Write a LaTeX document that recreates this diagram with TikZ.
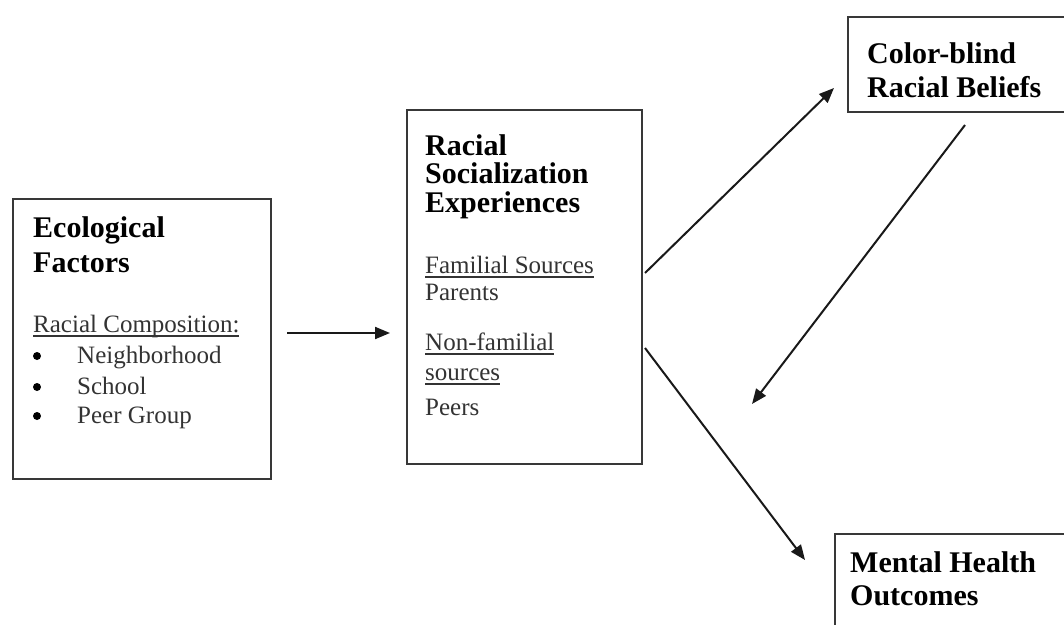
\documentclass[tikz,border=0pt]{standalone}
\usepackage{fontspec}
\setmainfont{Liberation Serif}
\usetikzlibrary{arrows.meta}
\newcommand\ulin[1]{\setbox0\hbox{#1}\rlap{\rule[-4.5pt]{\wd0}{1.4pt}}#1}
\tikzset{
  box/.style={draw=black!78, line width=2.2pt, fill=none, inner sep=0pt, anchor=north west},
  title/.style={anchor=base west, inner sep=0pt, font=\fontsize{30}{35}\selectfont\bfseries, text=black},
  body/.style={anchor=base west, inner sep=0pt, font=\fontsize{25}{30}\selectfont, text=black!80},
  bullet/.style={circle, fill=black, inner sep=0pt, minimum size=8pt},
  conn/.style={draw=black!90, line width=2pt, -{Triangle[length=15pt,width=12pt]}}
}
\begin{document}
\begin{tikzpicture}[x=1pt,y=-1pt]
\useasboundingbox (0,0) rectangle (1064,624);
% boxes
\node[box, minimum width=258pt, minimum height=280pt] (eco) at (12,198) {};
\node[box, minimum width=235pt, minimum height=354pt] (rse) at (406,109) {};
\node[box, minimum width=225pt, minimum height=95pt] (cb) at (847,16) {};
\node[box, minimum width=240pt, minimum height=120pt] (mh) at (834,533) {};
% ecological factors
\node[title] (ecoA) at (33,237) {Ecological};
\node[title] (ecoB) at (33,272) {Factors};
\node[body] (ecoC) at (33,332) {\ulin{Racial Composition:}};
\node[bullet] (b1) at (37,356) {};
\node[bullet] (b2) at (37,387) {};
\node[bullet] (b3) at (37,416) {};
\node[body] (i1) at (77,363) {Neighborhood};
\node[body] (i2) at (77,394) {School};
\node[body] (i3) at (77,423) {Peer Group};
% racial socialization
\node[title] (rseA) at (425,155) {Racial};
\node[title] (rseB) at (425,183) {Socialization};
\node[title] (rseC) at (425,212) {Experiences};
\node[body] (rseD) at (425,273) {\ulin{Familial Sources}};
\node[body] (rseE) at (425,300) {Parents};
\node[body] (rseF) at (425,350) {\ulin{Non-familial}};
\node[body] (rseG) at (425,380) {\ulin{sources}};
\node[body] (rseH) at (425,415) {Peers};
% color-blind
\node[title] (cbA) at (867,63) {Color-blind};
\node[title] (cbB) at (867,97) {Racial Beliefs};
% mental health
\node[title] (mhA) at (850,572) {Mental Health};
\node[title] (mhB) at (850,605) {Outcomes};
% connector end points
\coordinate (p1) at (287,333);
\coordinate (q1) at (390,333);
\coordinate (p2) at (645,273);
\coordinate (q2) at (834,88);
\coordinate (p3) at (965,125);
\coordinate (q3) at (752,404);
\coordinate (p4) at (645,348);
\coordinate (q4) at (805,560);
\draw[conn] (p1) -- (q1);
\draw[conn] (p2) -- (q2);
\draw[conn] (p3) -- (q3);
\draw[conn] (p4) -- (q4);
\end{tikzpicture}
\end{document}
